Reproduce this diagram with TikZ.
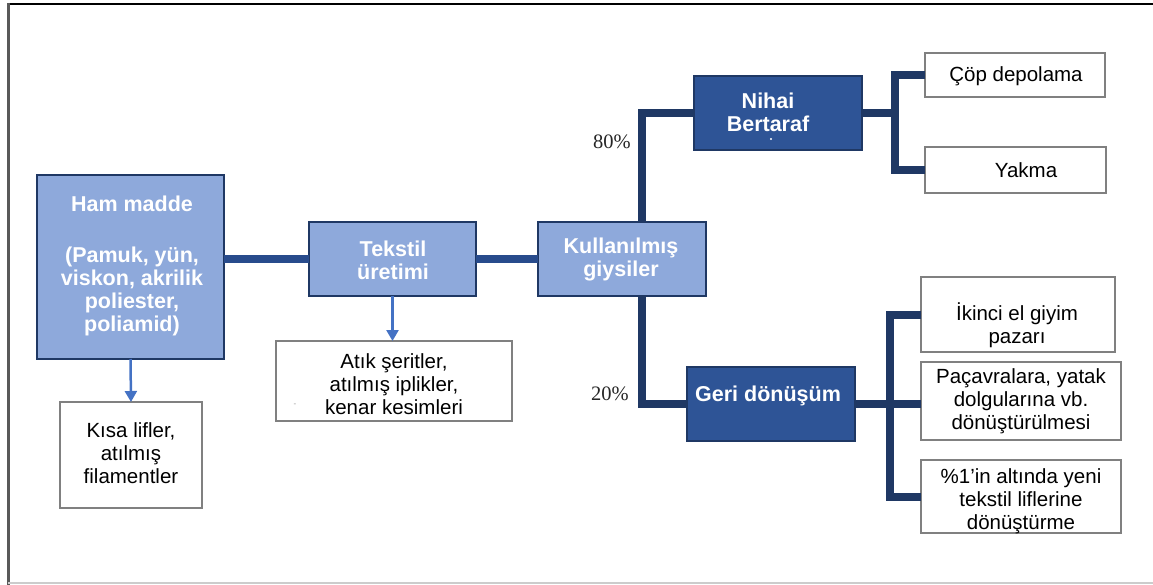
\documentclass[tikz,border=0pt]{standalone}
\usepackage{fontspec}
\setmainfont{Liberation Sans}
\newfontfamily\serifpct{Liberation Serif}
\usetikzlibrary{arrows.meta}
\definecolor{lboxfill}{RGB}{142,169,219}
\definecolor{dboxfill}{RGB}{46,84,150}
\definecolor{navy}{RGB}{31,56,100}
\definecolor{midline}{RGB}{40,75,140}
\definecolor{arrowblue}{RGB}{68,114,196}
\definecolor{graybd}{RGB}{128,128,128}
\newcommand\mkbox[6]{\node[#6, minimum width={#4-#2}, minimum height={#5-#3}] (#1) at ({(#2+#4)/2},{(#3+#5)/2}) {};}
\begin{document}
\begin{tikzpicture}[x=1pt,y=-1pt,
  lbox/.style={draw=navy, fill=lboxfill, line width=1.5pt, inner sep=0pt, outer sep=0pt},
  dbox/.style={draw=navy, fill=dboxfill, line width=1.5pt, inner sep=0pt, outer sep=0pt},
  wbox/.style={draw=graybd, fill=white, line width=1.5pt, inner sep=0pt, outer sep=0pt},
  ttl/.style={font=\bfseries\fontsize{21.5}{23}\selectfont, text=white, align=center, inner sep=0pt},
  txt/.style={font=\fontsize{20.5}{23}\selectfont, text=black, align=center, inner sep=0pt},
  pct/.style={font=\serifpct\fontsize{20.5}{23}\selectfont, text=black!85, inner sep=0pt},
  navyline/.style={draw=navy, line width=8pt},
  blueline/.style={draw=midline, line width=8pt},
  arr/.style={draw=arrowblue, line width=2.5pt, -{Triangle[width=12pt,length=11pt]}}
]
\useasboundingbox (0,0) rectangle (1153,585);
% outer frame
\draw[black, line width=2pt] (7,4) -- (1153,4);
\draw[black!65, line width=3pt] (8,3) -- (8,585);
\draw[black!20, line width=2pt] (8,583) -- (1153,583);

% boxes
\mkbox{ham}{37}{175}{224}{359}{lbox}
\mkbox{kisa}{60}{402}{202}{508}{wbox}
\mkbox{tek}{309}{222}{476}{296}{lbox}
\mkbox{atik}{276}{341}{512}{421}{wbox}
\mkbox{kul}{538}{222}{706}{296}{lbox}
\mkbox{nih}{694}{76}{862}{150}{dbox}
\mkbox{geri}{687}{367}{855}{441}{dbox}
\mkbox{cop}{925}{53}{1105}{97}{wbox}
\mkbox{yak}{925}{147}{1106}{193}{wbox}
\mkbox{ik}{921}{277}{1115}{352}{wbox}
\mkbox{pac}{921}{362}{1121}{440}{wbox}
\mkbox{yuz}{921}{460}{1121}{533}{wbox}

% texts
\node[ttl] (ham-t) at (132,266) {Ham madde\\[28pt](Pamuk, yün,\\viskon, akrilik\\poliester,\\poliamid)};
\node[txt] (kisa-t) at (131,453) {Kısa lifler,\\atılmış\\filamentler};
\node[ttl] (tek-t) at (393,260) {Tekstil\\üretimi};
\node[txt] (atik-t) at (394,384) {Atık şeritler,\\atılmış iplikler,\\kenar kesimleri};
\node[text=black!40, font=\fontsize{8}{8}\selectfont, inner sep=0pt] (atik-dash) at (295,405) {-};
\node[ttl] (kul-t) at (621,259) {Kullanılmış\\giysiler};
\node[ttl] (nih-t) at (768,112) {Nihai\\Bertaraf};
\fill[white] (771,139) circle (1.1pt);
\node[ttl] (geri-t) at (768,396) {Geri dönüşüm};
\node[txt] (cop-t) at (1016,76) {Çöp depolama};
\node[txt] (yak-t) at (1026,170) {Yakma};
\node[txt] (ik-t) at (1017,325) {İkinci el giyim\\pazarı};
\node[txt] (pac-t) at (1021,401) {Paçavralara, yatak\\dolgularına vb.\\dönüştürülmesi};
\node[txt] (yuz-t) at (1021,501) {\%1’in altında yeni\\tekstil liflerine\\dönüştürme};
\node[pct] (p80) at (612,142) {80\%};
\node[pct] (p20) at (610,394) {20\%};

% connectors
\coordinate (stem) at (642,259);
\coordinate (b1) at (895,113);
\coordinate (b2) at (890,404);
\draw[blueline] (tek.west -| ham.east) -- (tek.west);
\draw[blueline] (tek.east) -- (kul.west);
\draw[navyline] (kul.north -| stem) |- (nih.west);
\draw[navyline] (kul.south -| stem) |- (geri.west);
\draw[navyline] (nih.east) -- (b1);
\draw[navyline] (cop.west) -| (b1) |- (yak.west);
\draw[navyline] (geri.east) -- (geri.east -| pac.west);
\draw[navyline] (ik.west) -| (b2) |- (yuz.west);
\draw[arr] (ham.south) -- (kisa.north);
\draw[arr] (tek.south) -- (tek.south |- atik.north);
\end{tikzpicture}
\end{document}
